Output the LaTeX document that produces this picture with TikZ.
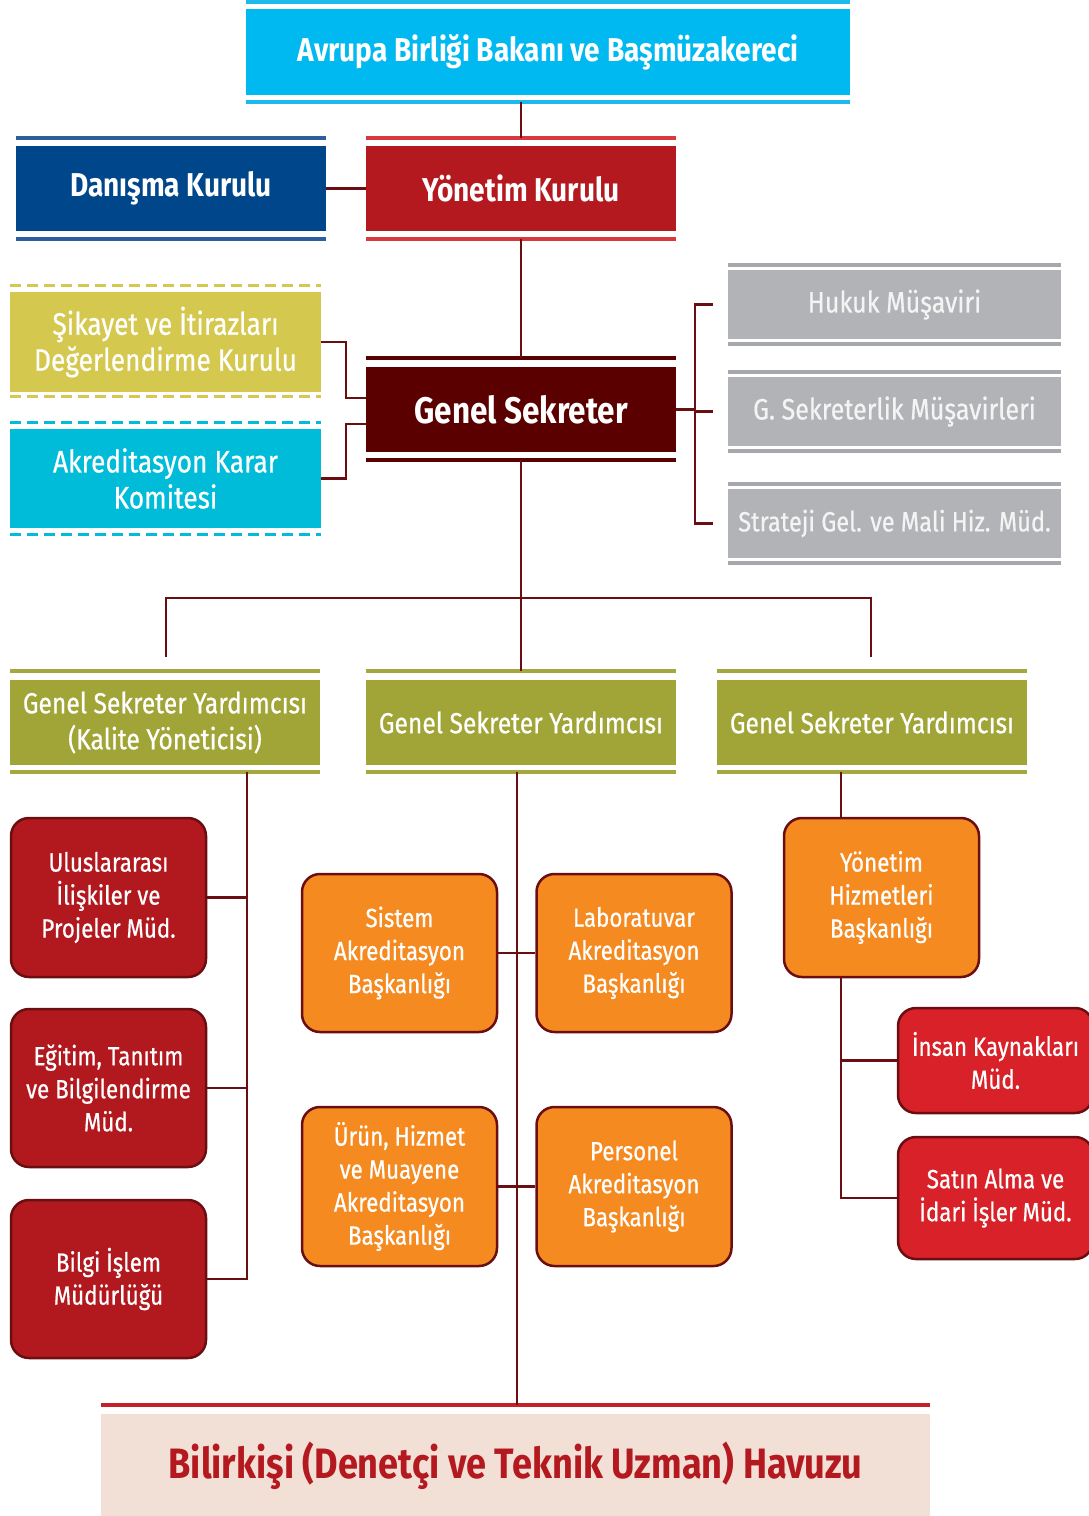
\documentclass[tikz,border=0pt]{standalone}
\usepackage{fontspec}
\setmainfont{Fira Sans}[FakeStretch=0.85]
\newfontfamily\medfont{Fira Sans}[FakeStretch=0.85, FakeBold=0.6]
\usetikzlibrary{calc}
\definecolor{cyanT}{HTML}{00B9F1}
\definecolor{cyanR}{HTML}{1DB8EC}
\definecolor{navyT}{HTML}{00468A}
\definecolor{navyR}{HTML}{2D5F9E}
\definecolor{redT}{HTML}{B3191F}
\definecolor{redR}{HTML}{D8393F}
\definecolor{maroonT}{HTML}{5B0000}
\definecolor{yellowT}{HTML}{D5C84F}
\definecolor{tealT}{HTML}{00BCD8}
\definecolor{grayT}{HTML}{B1B3B6}
\definecolor{grayR}{HTML}{A6A8AB}
\definecolor{grayTxt}{HTML}{F4F4F4}
\definecolor{oliveT}{HTML}{A1A537}
\definecolor{oliveR}{HTML}{A5A83C}
\definecolor{boxRed}{HTML}{B1191F}
\definecolor{orangeT}{HTML}{F48A20}
\definecolor{brightRed}{HTML}{D82128}
\definecolor{poolBg}{HTML}{F2E0D7}
\definecolor{poolR}{HTML}{C4212A}
\definecolor{connC}{HTML}{6B0E12}
\definecolor{borderC}{HTML}{6B0E12}
\newcommand\boxrules[4]{%
  \draw[rulesty,draw=#2] ($(#1.north west)+(0,-#3)$) -- ($(#1.north east)+(0,-#3)$);
  \draw[rulesty,draw=#2] ($(#1.south west)+(0,#4)$) -- ($(#1.south east)+(0,#4)$);}
\newcommand\dashrules[4]{%
  \draw[dashsty,draw=#2] ($(#1.north west)+(0,-#3)$) -- ($(#1.north east)+(0,-#3)$);
  \draw[dashsty,draw=#2] ($(#1.south west)+(0,#4)$) -- ($(#1.south east)+(0,#4)$);}
\tikzset{
  hdr/.style={inner sep=0, text=white, align=center, font=\bfseries\fontsize{33}{38}\selectfont},
  sub/.style={inner sep=0, text=white, align=center, font=\medfont\fontsize{31}{36}\selectfont},
  gsy/.style={inner sep=0, text=white, align=center, fill=oliveT, minimum width=310, minimum height=85, font=\medfont\fontsize{29}{36}\selectfont},
  graybox/.style={inner sep=0, text=grayTxt, align=center, fill=grayT, minimum width=333, minimum height=69, font=\medfont\fontsize{29.5}{34}\selectfont},
  rbox/.style={draw=borderC, line width=2.5pt, rounded corners=18pt, inner sep=0, align=center, text=white, minimum width=195, font=\medfont\fontsize{26.3}{33}\selectfont},
  rulesty/.style={line width=3.5pt},
  dashsty/.style={line width=3pt, dash pattern=on 11pt off 6pt},
  conn/.style={draw=connC, line width=2.5pt}
}
\begin{document}
\begin{tikzpicture}[x=1pt,y=-1pt]
\useasboundingbox (0,0) rectangle (1089,1516);
\clip (0,0) rectangle (1089,1516);
% top
\node[hdr, fill=cyanT, minimum width=604, minimum height=86] (avrupa) at (548,52) {Avrupa Birliği Bakanı ve Başmüzakereci};
\boxrules{avrupa}{cyanR}{7}{7}
\node[hdr, fill=navyT, minimum width=310, minimum height=85] (danisma) at (171,188.5) {Danışma Kurulu};
\boxrules{danisma}{navyR}{8}{8}
\node[hdr, fill=redT, minimum width=310, minimum height=85] (yonetim) at (521,188.5) {Yönetim Kurulu};
\boxrules{yonetim}{redR}{8}{8}
\node[hdr, fill=maroonT, minimum width=310, minimum height=85, font=\bfseries\fontsize{37}{42}\selectfont] (genel) at (521,409.5) {Genel Sekreter};
\boxrules{genel}{maroonT}{9}{8}
% left committees
\node[sub, fill=yellowT, minimum width=311, minimum height=100] (sikayet) at (165.5,342) {Şikayet ve İtirazları\\Değerlendirme Kurulu};
\dashrules{sikayet}{yellowT}{6}{4}
\node[sub, fill=tealT, minimum width=311, minimum height=99] (akk) at (165.5,478.5) {Akreditasyon Karar\\Komitesi};
\dashrules{akk}{tealT}{6}{6}
% gray advisors
\node[graybox] (hukuk) at (894.5,304.5) {Hukuk Müşaviri};
\boxrules{hukuk}{grayR}{5}{5}
\node[graybox] (gsm) at (894.5,411.5) {G. Sekreterlik Müşavirleri};
\boxrules{gsm}{grayR}{5}{5}
\node[graybox, font=\medfont\fontsize{27.8}{34}\selectfont] (strateji) at (894.5,523.5) {Strateji Gel. ve Mali Hiz. Müd.};
\boxrules{strateji}{grayR}{5}{5}
% deputies
\node[gsy] (gsy1) at (165,722.5) {Genel Sekreter Yardımcısı\\(Kalite Yöneticisi)};
\boxrules{gsy1}{oliveR}{9}{7}
\node[gsy] (gsy2) at (521,722.5) {Genel Sekreter Yardımcısı};
\boxrules{gsy2}{oliveR}{9}{7}
\node[gsy] (gsy3) at (872,722.5) {Genel Sekreter Yardımcısı};
\boxrules{gsy3}{oliveR}{9}{7}
% left departments
\node[rbox, fill=boxRed, minimum height=159] (ulus) at (108.5,897.5) {Uluslararası\\İlişkiler ve\\Projeler Müd.};
\node[rbox, fill=boxRed, minimum height=158] (egitim) at (108.5,1088) {Eğitim, Tanıtım\\ve Bilgilendirme\\Müd.};
\node[rbox, fill=boxRed, minimum height=158] (bilgi) at (108.5,1279) {Bilgi İşlem\\Müdürlüğü};
% centre departments
\node[rbox, fill=orangeT, minimum height=158] (sistem) at (399.5,953) {Sistem\\Akreditasyon\\Başkanlığı};
\node[rbox, fill=orangeT, minimum height=158] (lab) at (634,953) {Laboratuvar\\Akreditasyon\\Başkanlığı};
\node[rbox, fill=orangeT, minimum height=159] (urun) at (399.5,1186.5) {Ürün, Hizmet\\ve Muayene\\Akreditasyon\\Başkanlığı};
\node[rbox, fill=orangeT, minimum height=159] (pers) at (634,1186.5) {Personel\\Akreditasyon\\Başkanlığı};
% right departments
\node[rbox, fill=orangeT, minimum height=159] (yh) at (881.5,897.5) {Yönetim\\Hizmetleri\\Başkanlığı};
\node[rbox, fill=brightRed, minimum height=105] (insan) at (995.5,1060.5) {İnsan Kaynakları\\Müd.};
\node[rbox, fill=brightRed, minimum height=122] (satin) at (995.5,1198) {Satın Alma ve\\İdari İşler Müd.};
% pool
\node[inner sep=0, fill=poolBg, minimum width=829, minimum height=104, text=redT, font=\bfseries\fontsize{42.5}{46}\selectfont] (pool) at (515.5,1466) {Bilirkişi (Denetçi ve Teknik Uzman) Havuzu};
\draw[rulesty, draw=poolR] ($(pool.north west)+(0,-9)$) -- ($(pool.north east)+(0,-9)$);
% connectors
\draw[conn] ($(avrupa.south -| yonetim.north)+(0,7)$) -- ($(yonetim.north)+(0,-8)$);
\draw[conn] (danisma.east) -- (yonetim.west);
\draw[conn] ($(yonetim.south)+(0,8)$) -- ($(genel.north)+(0,-9)$);
\draw[conn] (sikayet.east) -- ++(25,0) |- ($(genel.west)+(0,-11.5)$);
\draw[conn] (akk.east) -- ++(25,0) |- ($(genel.west)+(0,14.5)$);
\draw[conn] (genel.east) -- ($(genel.east)+(19,0)$);
\draw[conn] ($(hukuk.west)+(-15,0)$) -- ($(hukuk.west)+(-33,0)$) |- ($(strateji.west)+(-15,0)$);
\draw[conn] ($(gsm.west)+(-33,0)$) -- ($(gsm.west)+(-15,0)$);
\draw[conn] ($(genel.south)+(0,8)$) -- ($(gsy2.north)+(0,-9)$);
\coordinate (bus) at (521,598);
\draw[conn] ($(gsy1.north)+(1,-23)$) |- (bus) -| ($(gsy3.north)+(-1,-23)$);
\draw[conn] ($(gsy1.south)+(82,7)$) |- (bilgi.east);
\draw[conn] (ulus.east) -- ++(41,0);
\draw[conn] (egitim.east) -- ++(41,0);
\draw[conn] ($(gsy2.south)+(-4,7)$) -- ++(0,633);
\draw[conn] (sistem.east) -- (lab.west);
\draw[conn] (urun.east) -- (pers.west);
\draw[conn] ($(gsy3.south)+(-31,7)$) -- ++(0,46);
\draw[conn] ($(yh.south)+(-40.5,0)$) |- (satin.west);
\draw[conn] (insan.west) -- ++(-57,0);
\end{tikzpicture}
\end{document}
